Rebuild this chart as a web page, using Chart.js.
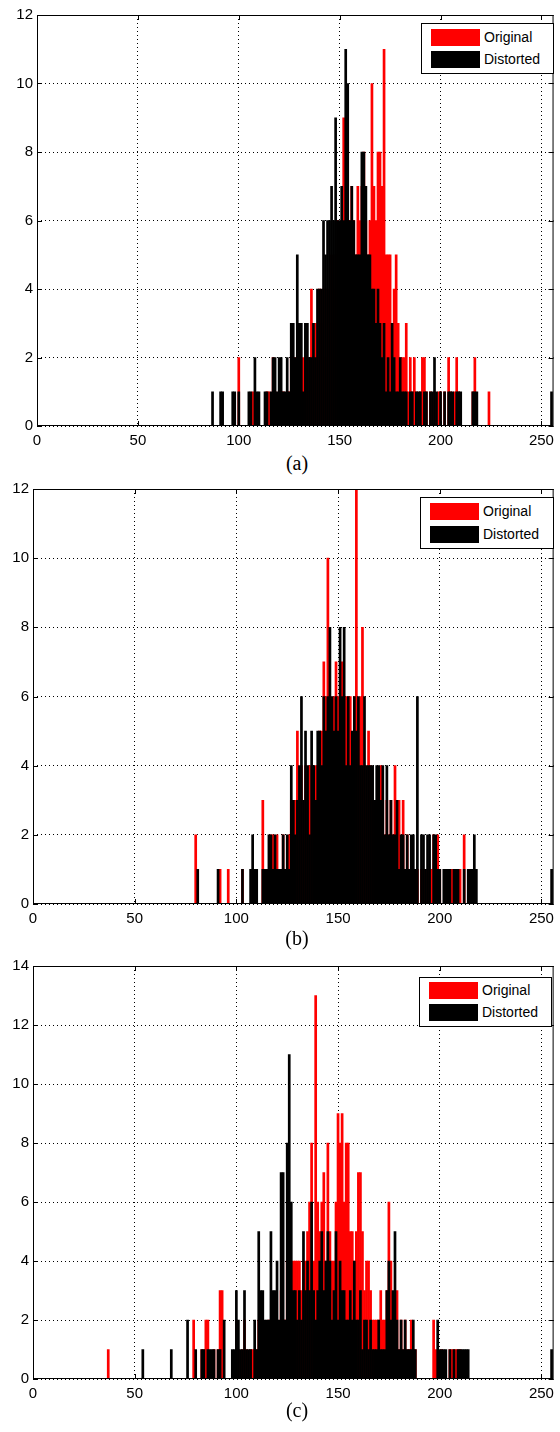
<!DOCTYPE html>
<html>
<head>
<meta charset="utf-8">
<script src="https://cdn.jsdelivr.net/npm/chart.js@4/dist/chart.umd.min.js"></script>
<style>
body { margin: 0; background: #fff; width: 560px; height: 1432px; position: relative; overflow: hidden; font-family: "Liberation Sans", Arial, sans-serif; }
canvas { position: absolute; left: 0; }
.legend { position: absolute; border: 1px solid #000; background: #fff; box-sizing: border-box; font-size: 14px; color: #000; }
.legend .sw { position: absolute; left: 9px; width: 49px; height: 17px; }
.legend .txt { position: absolute; left: 62px; line-height: 17px; }
.cap { position: absolute; left: 0; width: 594px; text-align: center; font-family: "Liberation Serif", "Times New Roman", serif; font-size: 20px; }
</style>
</head>
<body>
<canvas id="chartA" width="560" height="450" style="top:0px"></canvas>
<canvas id="chartB" width="560" height="453" style="top:475px"></canvas>
<canvas id="chartC" width="560" height="451" style="top:952px"></canvas>

<div class="legend" style="left:421px;top:23px;width:133px;height:51px">
  <div class="sw" style="top:5px;background:#ff0000"></div><div class="txt" style="top:5px">Original</div>
  <div class="sw" style="top:27px;background:#000"></div><div class="txt" style="top:27px">Distorted</div>
</div>
<div class="legend" style="left:420px;top:497px;width:134px;height:52px">
  <div class="sw" style="top:5px;background:#ff0000"></div><div class="txt" style="top:5px">Original</div>
  <div class="sw" style="top:28px;background:#000"></div><div class="txt" style="top:28px">Distorted</div>
</div>
<div class="legend" style="left:419px;top:977px;width:133px;height:50px">
  <div class="sw" style="top:4px;background:#ff0000"></div><div class="txt" style="top:4px">Original</div>
  <div class="sw" style="top:26px;background:#000"></div><div class="txt" style="top:26px">Distorted</div>
</div>

<div class="cap" style="top:452px">(a)</div>
<div class="cap" style="top:927px">(b)</div>
<div class="cap" style="top:1399px">(c)</div>

<script>
// histogram counts per grey level, each list starts at its *Start bin and runs to 255

// (a)
const aStart = 85;
const aOriginal = [
  0,0,0,0,0,0,0,0,0,0,
  0,0,0,0,0,2,0,0,0,0,
  0,0,1,0,0,0,0,0,0,1,
  1,0,2,1,0,1,1,1,0,1,
  1,2,1,2,1,2,1,2,1,2,
  1,4,2,3,2,4,3,4,2,4,
  3,5,4,5,6,5,6,9,7,6,
  6,7,6,5,7,6,7,8,6,5,
  6,10,7,6,8,8,7,11,5,5,
  5,3,4,5,3,2,2,2,3,1,
  2,1,2,1,0,1,2,2,1,0,
  1,0,1,0,1,1,0,1,0,2,
  1,0,1,2,1,0,0,0,0,0,
  0,1,2,0,0,0,0,0,0,1,
  0,0,0,0,0,0,0,0,0,0,
  0,0,0,0,0,0,0,0,0,0,
  0,0,0,0,0,0,0,0,0,0,
  0
];
const aDistorted = [
  0,0,1,0,0,0,1,1,0,0,
  0,0,1,1,0,1,0,0,0,0,
  1,1,0,2,1,1,0,0,1,1,
  0,1,2,2,1,2,2,1,1,2,
  1,3,3,2,5,3,3,1,3,3,
  2,2,3,2,4,4,4,6,5,6,
  6,7,6,9,6,6,7,6,11,10,
  6,7,6,5,5,5,8,8,7,5,
  5,4,4,3,4,3,2,3,1,2,
  1,3,2,1,1,2,1,1,1,0,
  1,1,0,1,1,1,0,1,1,0,
  1,1,2,1,0,1,0,1,0,1,
  1,1,0,1,1,1,0,0,0,0,
  0,1,1,1,0,0,0,0,0,0,
  0,0,0,0,0,0,0,0,0,0,
  0,0,0,0,0,0,0,0,0,0,
  0,0,0,0,0,0,0,0,0,0,
  1
];

// (b)
const bStart = 78;
const bOriginal = [
  0,0,2,0,0,0,0,0,0,0,
  0,0,0,0,1,0,0,0,1,0,
  0,0,0,0,0,1,0,0,0,0,
  1,0,0,0,0,3,1,0,1,2,
  2,1,2,1,0,2,1,1,2,3,
  2,3,5,3,4,2,4,3,4,3,
  3,4,4,5,5,7,6,10,6,5,
  6,7,6,6,7,5,6,6,6,4,
  6,12,5,6,8,4,3,5,4,3,
  2,3,2,4,3,2,3,2,3,2,
  4,2,3,1,3,1,2,1,0,1,
  1,1,0,1,1,0,1,0,1,2,
  1,2,1,0,0,0,1,0,1,0,
  1,0,1,0,2,0,0,1,0,0,
  0,0,0,0,0,0,0,0,0,0,
  0,0,0,0,0,0,0,0,0,0,
  0,0,0,0,0,0,0,0,0,0,
  0,0,0,0,0,0,0,0
];
const bDistorted = [
  0,0,0,1,0,0,0,0,0,0,
  0,0,0,1,0,0,0,0,0,0,
  0,0,0,0,0,1,0,0,0,1,
  2,1,1,0,0,1,1,1,2,2,
  1,2,1,1,1,2,1,2,1,4,
  3,2,3,4,6,3,5,4,2,5,
  4,3,5,5,4,6,5,6,8,6,
  5,6,5,8,6,8,4,6,4,5,
  6,5,6,4,4,6,4,4,4,4,
  3,4,4,3,4,2,4,2,3,2,
  2,3,1,2,2,1,2,1,2,2,
  1,6,0,2,2,1,2,2,0,2,
  2,1,1,0,1,1,1,1,0,1,
  1,1,0,0,1,0,1,1,1,2,
  1,0,0,0,0,0,0,0,0,0,
  0,0,0,0,0,0,0,0,0,0,
  0,0,0,0,0,0,0,0,0,0,
  0,0,0,0,0,0,0,1
];

// (c)
const cStart = 35;
const cOriginal = [
  0,0,1,0,0,0,0,0,0,0,
  0,0,0,0,0,0,0,0,0,0,
  0,0,0,0,0,0,0,0,0,0,
  0,0,0,0,0,0,0,0,0,0,
  0,0,0,0,2,0,0,0,1,1,
  2,2,0,0,1,0,1,3,3,0,
  0,0,0,0,0,2,1,0,1,2,
  1,0,1,1,1,1,2,1,2,1,
  1,2,1,2,1,2,1,3,2,2,
  4,3,2,4,4,4,4,3,4,4,
  5,6,8,4,13,6,5,6,7,4,
  8,5,4,4,6,9,8,9,6,8,
  8,5,5,4,5,7,7,5,3,4,
  4,3,2,2,2,2,3,2,2,3,
  6,4,2,2,3,1,2,1,2,1,
  1,2,1,1,0,0,0,0,0,0,
  0,0,2,1,0,0,1,0,0,0,
  1,1,1,1,1,1,0,0,0,0,
  0,0,0,0,0,0,0,0,0,0,
  0,0,0,0,0,0,0,0,0,0,
  0,0,0,0,0,0,0,0,0,0,
  0,0,0,0,0,0,0,0,0,0,
  0
];
const cDistorted = [
  0,0,0,0,0,0,0,0,0,0,
  0,0,0,0,0,0,0,0,0,1,
  0,0,0,0,0,0,0,0,0,0,
  0,0,0,1,0,0,0,0,0,0,
  0,2,0,0,0,1,0,0,1,1,
  0,1,1,1,1,0,1,1,0,2,
  0,0,0,1,1,3,2,1,1,3,
  1,1,1,0,2,1,5,3,3,2,
  2,2,5,3,3,4,2,7,7,2,
  8,11,6,3,3,2,3,2,5,3,
  4,3,6,3,2,3,4,5,3,4,
  5,4,2,3,5,2,4,3,3,2,
  2,3,2,4,2,2,3,1,2,2,
  1,2,1,1,1,2,1,1,1,3,
  4,2,3,5,2,1,2,1,2,1,
  1,1,2,1,0,0,0,0,0,0,
  0,0,0,0,2,1,1,1,1,0,
  1,0,1,0,1,1,1,1,1,1,
  0,0,0,0,0,0,0,0,0,0,
  0,0,0,0,0,0,0,0,0,0,
  0,0,0,0,0,0,0,0,0,0,
  0,0,0,0,0,0,0,0,0,0,
  1
];

const xTicks = [0, 50, 100, 150, 200, 250];

// solid box round the plot + small inward ticks, like matlab
const frame = {
  id: 'frame',
  afterDraw(chart) {
    const { ctx, chartArea: a, scales } = chart;
    ctx.save();
    ctx.strokeStyle = '#000';
    ctx.lineWidth = 1;
    ctx.strokeRect(a.left + 0.5, a.top + 0.5, a.width - 1, a.height - 1);
    ctx.beginPath();
    scales.x.ticks.forEach(t => {
      const x = Math.round(scales.x.getPixelForValue(t.value)) + 0.5;
      ctx.moveTo(x, a.bottom); ctx.lineTo(x, a.bottom - 5);
      ctx.moveTo(x, a.top); ctx.lineTo(x, a.top + 5);
    });
    scales.y.ticks.forEach(t => {
      const y = Math.round(scales.y.getPixelForValue(t.value)) + 0.5;
      ctx.moveTo(a.left, y); ctx.lineTo(a.left + 5, y);
      ctx.moveTo(a.right, y); ctx.lineTo(a.right - 5, y);
    });
    ctx.stroke();
    ctx.restore();
  }
};

const tickFont = { family: '"Liberation Sans", Arial, sans-serif', size: 15 };

makeHist = (id, start, original, distorted, yMax, left, right, top) => {
  const toPoints = (vals) => vals.map((v, i) => ({ x: start + i, y: v }));

  new Chart(document.getElementById(id), {
    type: 'bar',
    data: {
      datasets: [
        { label: 'Original', data: toPoints(original), backgroundColor: '#ff0000', order: 1 },
        { label: 'Distorted', data: toPoints(distorted), backgroundColor: '#000000', order: 0 }
      ]
    },
    options: {
      responsive: false,
      animation: false,
      devicePixelRatio: 1,
      layout: { padding: { top: top, right: 560 - right, left: 0, bottom: 0 } },
      datasets: { bar: { grouped: false, barPercentage: 1, categoryPercentage: 1, borderWidth: 0 } },
      plugins: { legend: { display: false }, tooltip: { enabled: false } },
      scales: {
        x: {
          type: 'linear', min: 0, max: 256, offset: false,
          afterFit: (s) => { s.height = 24; },
          afterBuildTicks: (s) => { s.ticks = xTicks.map(v => ({ value: v })); },
          grid: { color: '#000', drawTicks: false, offset: false },
          border: { display: false, dash: [1, 3] },
          ticks: { padding: 6, color: '#000', font: tickFont, maxRotation: 0, autoSkip: false }
        },
        y: {
          min: 0, max: yMax,
          afterFit: (s) => { s.width = left; },
          grid: { color: '#000', drawTicks: false },
          border: { display: false, dash: [1, 3] },
          ticks: { stepSize: 2, padding: 4, color: '#000', font: tickFont }
        }
      }
    },
    plugins: [frame]
  });
};

makeHist('chartA', aStart, aOriginal, aDistorted, 12, 37, 558, 15);
makeHist('chartB', bStart, bOriginal, bDistorted, 12, 33, 558, 14);
makeHist('chartC', cStart, cOriginal, cDistorted, 14, 33, 557, 14);
</script>
</body>
</html>
